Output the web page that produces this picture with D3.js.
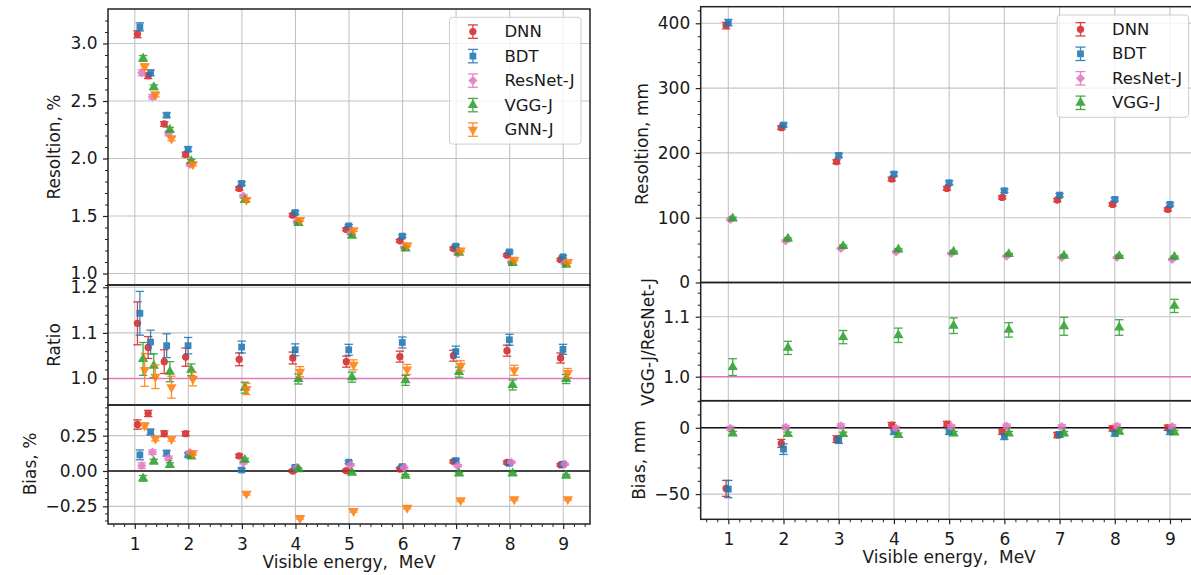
<!DOCTYPE html>
<html>
<head>
<meta charset="utf-8">
<script src="https://d3js.org/d3.v7.min.js"></script>
<style>
  body { margin: 0; background: #fff; }
  text { font-family: "DejaVu Sans", sans-serif; fill: #1a1a1a; }
</style>
</head>
<body>
<svg id="chart" width="1191" height="575"></svg>
<script>
// ---- data ----
const energyLeft = [1.1, 1.3, 1.6, 2, 3, 4, 5, 6, 7, 8, 9];
const energyRight = [1, 2, 3, 4, 5, 6, 7, 8, 9];
const xTickValues = [1, 2, 3, 4, 5, 6, 7, 8, 9];

const modelNames = ["DNN", "BDT", "ResNet-J", "VGG-J", "GNN-J"];

// left: energy resolution, %
const resPctDNN    = [3.08, 2.72, 2.30, 2.035, 1.74, 1.507, 1.383, 1.284, 1.217, 1.159, 1.12];
const resPctBDT    = [3.145, 2.745, 2.377, 2.081, 1.783, 1.530, 1.414, 1.325, 1.238, 1.188, 1.145];
const resPctResNet = [2.745, 2.536, 2.217, 1.948, 1.672, 1.45, 1.35, 1.226, 1.174, 1.10, 1.087];
const resPctVGG    = [2.87, 2.62, 2.25, 1.977, 1.638, 1.44, 1.327, 1.217, 1.18, 1.09, 1.075];
const resPctGNN    = [2.80, 2.556, 2.174, 1.95, 1.64, 1.465, 1.377, 1.246, 1.20, 1.12, 1.10];
const resPctErrDNN    = [0.03, 0.025, 0.02, 0.02, 0.015, 0.015, 0.012, 0.012, 0.012, 0.01, 0.01];
const resPctErrBDT    = [0.035, 0.025, 0.02, 0.02, 0.015, 0.015, 0.012, 0.012, 0.012, 0.01, 0.01];
const resPctErrResNet = [0.025, 0.02, 0.02, 0.015, 0.015, 0.012, 0.012, 0.01, 0.01, 0.01, 0.01];
const resPctErrVGG    = [0.025, 0.02, 0.02, 0.015, 0.015, 0.012, 0.012, 0.01, 0.01, 0.01, 0.01];
const resPctErrGNN    = [0.025, 0.02, 0.02, 0.015, 0.015, 0.012, 0.012, 0.01, 0.01, 0.01, 0.01];

// left: ratio to ResNet-J
const ratioDNN = [1.121, 1.068, 1.037, 1.047, 1.042, 1.045, 1.037, 1.048, 1.050, 1.061, 1.045];
const ratioBDT = [1.143, 1.080, 1.072, 1.072, 1.069, 1.063, 1.063, 1.079, 1.059, 1.085, 1.064];
const ratioVGG = [1.043, 1.028, 1.015, 1.019, 0.980, 0.999, 1.003, 0.996, 1.014, 0.986, 0.999];
const ratioGNN = [1.019, 1.004, 0.981, 0.999, 0.977, 1.015, 1.030, 1.020, 1.028, 1.018, 1.012];
const ratioErrDNN = [0.047, 0.024, 0.026, 0.02, 0.014, 0.013, 0.012, 0.012, 0.012, 0.012, 0.011];
const ratioErrBDT = [0.048, 0.026, 0.026, 0.018, 0.013, 0.013, 0.012, 0.012, 0.012, 0.012, 0.011];
const ratioErrVGG = [0.036, 0.026, 0.022, 0.013, 0.012, 0.011, 0.011, 0.011, 0.011, 0.011, 0.01];
const ratioErrGNN = [0.036, 0.026, 0.024, 0.015, 0.012, 0.011, 0.011, 0.011, 0.011, 0.011, 0.01];

// left: bias, %
const biasPctDNN    = [0.329, 0.407, 0.264, 0.264, 0.107, 0.0, 0.002, 0.014, 0.067, 0.06, 0.043];
const biasPctBDT    = [0.114, 0.276, 0.126, 0.114, 0.007, 0.026, 0.062, 0.031, 0.074, 0.055, 0.048];
const biasPctResNet = [0.038, 0.133, 0.09, 0.131, 0.06, 0.024, 0.043, 0.024, 0.038, 0.062, 0.048];
const biasPctVGG    = [-0.052, 0.067, 0.043, 0.102, 0.079, 0.012, -0.012, -0.033, -0.017, -0.017, -0.033];
const biasPctGNN    = [0.321, 0.229, 0.226, 0.126, -0.16, -0.333, -0.283, -0.26, -0.207, -0.20, -0.20];
const biasPctErrDNN    = [0.033, 0.022, 0.02, 0.016, 0.012, 0.01, 0.01, 0.01, 0.01, 0.01, 0.008];
const biasPctErrBDT    = [0.035, 0.02, 0.02, 0.016, 0.012, 0.01, 0.01, 0.01, 0.01, 0.01, 0.008];
const biasPctErrResNet = [0.02, 0.016, 0.015, 0.012, 0.01, 0.008, 0.008, 0.008, 0.008, 0.008, 0.007];
const biasPctErrVGG    = [0.02, 0.016, 0.015, 0.012, 0.01, 0.008, 0.008, 0.008, 0.008, 0.008, 0.007];
const biasPctErrGNN    = [0.02, 0.016, 0.015, 0.012, 0.01, 0.008, 0.008, 0.008, 0.008, 0.008, 0.007];

// right: vertex resolution, mm
const resMmDNN    = [396.4, 238.9, 186.4, 159.6, 145.2, 131.3, 127.2, 120.5, 112.7];
const resMmBDT    = [401, 243, 196.1, 167.3, 153.9, 141.6, 134.9, 128.2, 120.5];
const resMmResNet = [97.3, 64.3, 52.5, 47.4, 44.8, 40.7, 38.6, 38.6, 35.5];
const resMmVGG    = [98.8, 67.4, 56.1, 51, 47.4, 43.8, 41.2, 40.7, 39.6];
const resMmErrDNN    = [5, 3, 3, 3, 3, 2.5, 2.5, 2.5, 2.5];
const resMmErrBDT    = [5, 3, 3, 3, 3, 2.5, 2.5, 2.5, 2.5];
const resMmErrResNet = [2, 1.5, 1.5, 1.5, 1.2, 1.2, 1.2, 1.2, 1.2];
const resMmErrVGG    = [2, 1.5, 1.5, 1.5, 1.2, 1.2, 1.2, 1.2, 1.2];

// right: VGG-J / ResNet-J
const ratioVggResNet    = [1.016, 1.048, 1.066, 1.069, 1.085, 1.078, 1.084, 1.082, 1.118];
const ratioVggResNetErr = [0.014, 0.011, 0.011, 0.012, 0.013, 0.012, 0.015, 0.013, 0.011];

// right: bias, mm
const biasMmDNN    = [-45.7, -11.8, -8.5, 2.0, 2.8, -3.0, -5.5, -0.5, 0];
const biasMmBDT    = [-46.2, -16.1, -9.3, -3, -3, -6.8, -5, -4.3, -3];
const biasMmResNet = [-0.5, 0.3, 1.5, -0.5, 0.8, 1.3, 0.8, 1.3, 0.8];
const biasMmVGG    = [-4.3, -4.8, -4.8, -5.5, -4.3, -4.3, -4.3, -3, -3.5];
const biasMmErrDNN    = [6, 3, 2.5, 2, 2, 2, 2, 2, 2];
const biasMmErrBDT    = [6.5, 4, 2.5, 2, 2, 2, 2, 2, 2];
const biasMmErrResNet = [1.5, 1.5, 1.5, 1.5, 1.5, 1.5, 1.5, 1.5, 1.5];
const biasMmErrVGG    = [1.5, 1.5, 1.5, 1.5, 1.5, 1.5, 1.5, 1.5, 1.5];

// tick labels
const yTicksResPct = [1.0, 1.5, 2.0, 2.5, 3.0];
const yTicksRatio = [1.0, 1.1, 1.2];
const yTicksBiasPct = [-0.25, 0, 0.25];
const yTicksResMm = [0, 100, 200, 300, 400];
const yTicksBiasMm = [-50, 0];

// ---- styles ----
const colors = {"DNN": "#d62728", "BDT": "#1f77b4", "ResNet-J": "#e377c2", "VGG-J": "#2ca02c", "GNN-J": "#ff7f0e"};
const shiftLeft = {"DNN": -0.05, "BDT": -0.005, "ResNet-J": 0.03, "VGG-J": 0.055, "GNN-J": 0.085};
const shiftRight = {"DNN": -0.04, "BDT": 0, "ResNet-J": 0.04, "VGG-J": 0.08};
const fontSize = 17;

const svg = d3.select("#chart");

function markerPath(name) {
  if (name == "DNN") return d3.symbol(d3.symbolCircle, 42)();
  if (name == "BDT") return d3.symbol(d3.symbolSquare, 46)();
  if (name == "ResNet-J") return "M0,-4.6L4.6,0L0,4.6L-4.6,0Z";
  return d3.symbol(d3.symbolTriangle, 46)();
}
function markerRot(name) { return name == "GNN-J" ? " rotate(180)" : ""; }

function minorTicks(lo, hi, step, majorStep) {
  return d3.range(Math.ceil(lo / step), Math.floor(hi / step) + 1)
    .map(k => k * step)
    .filter(v => Math.abs(v / majorStep - Math.round(v / majorStep)) > 1e-6);
}

function drawPanel(x, y, top, bottom, majors, minors, fmt, refLine, refColor, series, shift, energies) {
  const g = svg.append("g");
  const [x0, x1] = x.range();
  // grid
  g.selectAll(null).data(xTickValues).enter().append("line")
    .attr("x1", d => x(d)).attr("x2", d => x(d)).attr("y1", top).attr("y2", bottom)
    .attr("stroke", "#c4c4c4").attr("stroke-width", 1.1);
  g.selectAll(null).data(majors).enter().append("line")
    .attr("x1", x0).attr("x2", x1).attr("y1", d => y(d)).attr("y2", d => y(d))
    .attr("stroke", "#c4c4c4").attr("stroke-width", 1.1);
  if (refLine != null) {
    g.append("line").attr("x1", x0).attr("x2", x1).attr("y1", y(refLine)).attr("y2", y(refLine))
      .attr("stroke", refColor).attr("stroke-width", 1.4);
  }
  // error bars + markers
  series.forEach(s => {
    const col = colors[s.name];
    const pts = s.v.map((v, i) => ({x: energies[i] + shift[s.name], v: v, e: s.e[i]}));
    const sg = g.append("g").attr("opacity", 0.88);
    sg.selectAll(null).data(pts).enter().append("line")
      .attr("x1", d => x(d.x)).attr("x2", d => x(d.x))
      .attr("y1", d => y(d.v - d.e)).attr("y2", d => y(d.v + d.e))
      .attr("stroke", col).attr("stroke-width", 1.3);
    [-1, 1].forEach(sign => {
      sg.selectAll(null).data(pts).enter().append("line")
        .attr("x1", d => x(d.x) - 4.2).attr("x2", d => x(d.x) + 4.2)
        .attr("y1", d => y(d.v + sign * d.e)).attr("y2", d => y(d.v + sign * d.e))
        .attr("stroke", col).attr("stroke-width", 1.3);
    });
    sg.selectAll(null).data(pts).enter().append("path")
      .attr("d", markerPath(s.name))
      .attr("transform", d => "translate(" + x(d.x) + "," + y(d.v) + ")" + markerRot(s.name))
      .attr("fill", col);
  });
  // frame
  g.append("rect").attr("x", x0).attr("y", top).attr("width", x1 - x0).attr("height", bottom - top)
    .attr("fill", "none").attr("stroke", "#222").attr("stroke-width", 1.5);
  // y axis
  const ya = g.append("g").attr("transform", "translate(" + x0 + ",0)")
    .call(d3.axisLeft(y).tickValues(majors).tickSize(5).tickPadding(5.5).tickFormat(fmt));
  ya.select(".domain").remove();
  ya.selectAll("text").attr("font-size", fontSize).attr("font-family", "DejaVu Sans").attr("fill", "#1a1a1a");
  ya.selectAll("line").attr("stroke", "#222").attr("stroke-width", 1.2);
  const ym = g.append("g").attr("transform", "translate(" + x0 + ",0)")
    .call(d3.axisLeft(y).tickValues(minors).tickSize(3).tickFormat(""));
  ym.select(".domain").remove();
  ym.selectAll("line").attr("stroke", "#222").attr("stroke-width", 1);
  return g;
}

function drawXAxis(x, bottom) {
  const xa = svg.append("g").attr("transform", "translate(0," + bottom + ")")
    .call(d3.axisBottom(x).tickValues(xTickValues).tickSize(5).tickPadding(8.5).tickFormat(d3.format("d")));
  xa.select(".domain").remove();
  xa.selectAll("text").attr("font-size", fontSize).attr("font-family", "DejaVu Sans").attr("fill", "#1a1a1a");
  xa.selectAll("line").attr("stroke", "#222").attr("stroke-width", 1.2);
  const xm = svg.append("g").attr("transform", "translate(0," + bottom + ")")
    .call(d3.axisBottom(x).tickValues(minorTicks(0.6, 9.4, 0.2, 1)).tickSize(3).tickFormat(""));
  xm.select(".domain").remove();
  xm.selectAll("line").attr("stroke", "#222").attr("stroke-width", 1);
  const [x0, x1] = x.range();
  svg.append("text").attr("x", (x0 + x1) / 2).attr("y", bottom + 43.5)
    .attr("text-anchor", "middle").attr("font-size", fontSize)
    .style("white-space", "pre").text("Visible energy,  MeV");
}

function yLabel(xp, yp, txt) {
  svg.append("text").attr("transform", "translate(" + xp + "," + yp + ") rotate(-90)")
    .attr("text-anchor", "middle").attr("dominant-baseline", "central")
    .attr("font-size", fontSize).text(txt);
}

function legend(names, right, top, markerDx) {
  const w = 131.5, step = 24.5, first = 14.3;
  const h = first + (names.length - 1) * step + 14.5;
  const lg = svg.append("g").attr("transform", "translate(" + (right - w) + "," + top + ")");
  lg.append("rect").attr("width", w).attr("height", h).attr("rx", 3)
    .attr("fill", "white").attr("fill-opacity", 0.8).attr("stroke", "#cfcfcf").attr("stroke-width", 1);
  names.forEach((n, i) => {
    const cy = first + i * step, cx = markerDx, col = colors[n];
    const eg = lg.append("g").attr("opacity", 0.88);
    eg.append("line").attr("x1", cx).attr("x2", cx).attr("y1", cy - 6.7).attr("y2", cy + 6.7).attr("stroke", col).attr("stroke-width", 1.3);
    eg.append("line").attr("x1", cx - 5).attr("x2", cx + 5).attr("y1", cy - 6.7).attr("y2", cy - 6.7).attr("stroke", col).attr("stroke-width", 1.3);
    eg.append("line").attr("x1", cx - 5).attr("x2", cx + 5).attr("y1", cy + 6.7).attr("y2", cy + 6.7).attr("stroke", col).attr("stroke-width", 1.3);
    eg.append("path").attr("d", markerPath(n)).attr("transform", "translate(" + cx + "," + cy + ")" + markerRot(n)).attr("fill", col);
    lg.append("text").attr("x", markerDx + 31.5).attr("y", cy).attr("dominant-baseline", "central")
      .attr("font-size", 16.5).text(n);
  });
}

// ---- left figure ----
const xL = d3.scaleLinear().domain([0.5, 9.5]).range([108, 590]);
const yL1 = d3.scaleLinear().domain([0.9, 3.3]).range([285, 9]);
const yL2 = d3.scaleLinear().domain([0.942, 1.205]).range([405, 285]);
const yL3 = d3.scaleLinear().domain([-0.375, 0.467]).range([524, 405]);

drawPanel(xL, yL1, 9, 285, yTicksResPct, minorTicks(0.9, 3.3, 0.1, 0.5), d3.format(".1f"), null, null, [
  {name: "DNN", v: resPctDNN, e: resPctErrDNN},
  {name: "BDT", v: resPctBDT, e: resPctErrBDT},
  {name: "ResNet-J", v: resPctResNet, e: resPctErrResNet},
  {name: "VGG-J", v: resPctVGG, e: resPctErrVGG},
  {name: "GNN-J", v: resPctGNN, e: resPctErrGNN}
], shiftLeft, energyLeft);
drawPanel(xL, yL2, 285, 405, yTicksRatio, minorTicks(0.942, 1.2, 0.02, 0.1), d3.format(".1f"), 1.0, colors["ResNet-J"], [
  {name: "DNN", v: ratioDNN, e: ratioErrDNN},
  {name: "BDT", v: ratioBDT, e: ratioErrBDT},
  {name: "VGG-J", v: ratioVGG, e: ratioErrVGG},
  {name: "GNN-J", v: ratioGNN, e: ratioErrGNN}
], shiftLeft, energyLeft);
drawPanel(xL, yL3, 405, 524, yTicksBiasPct, minorTicks(-0.375, 0.467, 0.05, 0.25), d3.format(".2f"), 0, "#111", [
  {name: "DNN", v: biasPctDNN, e: biasPctErrDNN},
  {name: "BDT", v: biasPctBDT, e: biasPctErrBDT},
  {name: "ResNet-J", v: biasPctResNet, e: biasPctErrResNet},
  {name: "VGG-J", v: biasPctVGG, e: biasPctErrVGG},
  {name: "GNN-J", v: biasPctGNN, e: biasPctErrGNN}
], shiftLeft, energyLeft);
drawXAxis(xL, 524);
yLabel(54, 147, "Resoltion, %");
yLabel(54, 345, "Ratio");
yLabel(30, 464, "Bias, %");
legend(modelNames, 581, 17.3, 23.4);

// ---- right figure ----
const xR = d3.scaleLinear().domain([0.5, 9.5]).range([700.7, 1197.6]);
const yR1 = d3.scaleLinear().domain([0, 425.6]).range([282.5, 6.7]);
const yR2 = d3.scaleLinear().domain([0.96, 1.157]).range([400.7, 282.5]);
const yR3 = d3.scaleLinear().domain([-69, 20.4]).range([519.3, 400.7]);

drawPanel(xR, yR1, 6.7, 282.5, yTicksResMm, minorTicks(0, 425, 20, 100), d3.format("d"), null, null, [
  {name: "DNN", v: resMmDNN, e: resMmErrDNN},
  {name: "BDT", v: resMmBDT, e: resMmErrBDT},
  {name: "ResNet-J", v: resMmResNet, e: resMmErrResNet},
  {name: "VGG-J", v: resMmVGG, e: resMmErrVGG}
], shiftRight, energyRight);
drawPanel(xR, yR2, 282.5, 400.7, [1.0, 1.1], minorTicks(0.96, 1.157, 0.02, 0.1), d3.format(".1f"), 1.0, colors["ResNet-J"], [
  {name: "VGG-J", v: ratioVggResNet, e: ratioVggResNetErr}
], shiftRight, energyRight);
drawPanel(xR, yR3, 400.7, 519.3, yTicksBiasMm, minorTicks(-69, 20.4, 10, 50), d3.format("d"), 0, "#111", [
  {name: "DNN", v: biasMmDNN, e: biasMmErrDNN},
  {name: "BDT", v: biasMmBDT, e: biasMmErrBDT},
  {name: "ResNet-J", v: biasMmResNet, e: biasMmErrResNet},
  {name: "VGG-J", v: biasMmVGG, e: biasMmErrVGG}
], shiftRight, energyRight);
drawXAxis(xR, 519.3);
yLabel(642, 144, "Resoltion, mm");
yLabel(648, 342, "VGG-J/ResNet-J");
yLabel(638.5, 460, "Bias, mm");
legend(modelNames.slice(0, 4), 1188.6, 15, 23.4);
</script>
</body>
</html>
